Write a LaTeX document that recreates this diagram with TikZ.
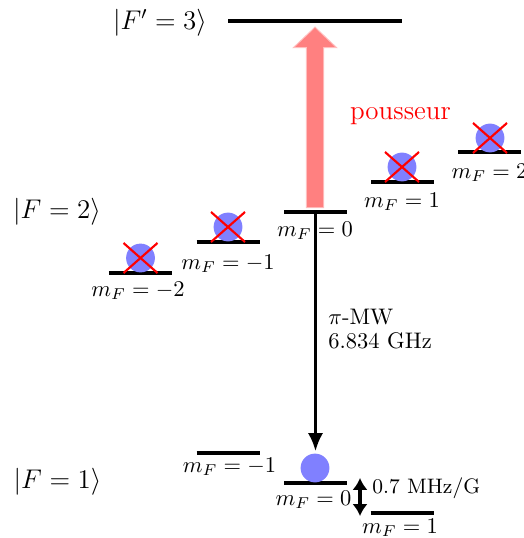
\documentclass[tikz,border=0pt]{standalone}
\usetikzlibrary{arrows.meta}
\begin{document}
\begin{tikzpicture}[x=0.4444pt,y=-0.4444pt,
  lvl/.style={line width=1.45pt},
  lbl/.style={inner sep=0pt},
  ket/.style={inner sep=0pt, font=\large},
  atom/.style={circle, fill=blue!50, inner sep=0pt, minimum size=12.8pt},
  cross/.style={red, line width=0.95pt},
  mw/.style={line width=1.15pt, -{Latex[length=8pt,width=6.8pt]}},
  dbl/.style={line width=1.7pt, {Latex[length=5.3pt,width=6.8pt]}-{Latex[length=5.3pt,width=6.8pt]}},
  pusher/.style={fill=red!50, draw=red!50, draw opacity=0.5, line width=1pt},
]
\useasboundingbox (0,0) rectangle (523,538);

% level centres
\coordinate (L3)   at (315,21);
\coordinate (L2m2) at (140.5,273);
\coordinate (L2m1) at (228,242);
\coordinate (L20)  at (315.5,212);
\coordinate (L21)  at (402.5,182);
\coordinate (L22)  at (489.5,152);
\coordinate (L1m1) at (228,453);
\coordinate (L10)  at (315.5,483);
\coordinate (L11)  at (402,513);

% pusher beam
\draw[pusher] (307,207) -- (307,47) -- (295,47) -- (315,28) -- (335,47) -- (323,47) -- (323,207) -- cycle;
\node[lbl, red, font=\large] (push) at (400.5,116) {pousseur};

% F'=3
\draw[lvl] (228,21) -- (402,21);
\node[ket] (k3) at (160,23) {$|F'=3\rangle$};

% F=2 and F=1 levels
\foreach \c in {L2m2,L2m1,L20,L21,L22,L1m1,L10,L11}
  \draw[lvl] ([xshift=-14pt]\c) -- ([xshift=14pt]\c);

\node[ket] (k2) at (57,212) {$|F=2\rangle$};
\node[ket] (k1) at (57.5,482) {$|F=1\rangle$};

% m_F labels
\node[lbl] (m2m2) at (138,291) {$m_F=-2$};
\node[lbl] (m2m1) at (228,264) {$m_F=-1$};
\node[lbl] (m20)  at (315,231) {$m_F=0$};
\node[lbl] (m21)  at (402,202) {$m_F=1$};
\node[lbl] (m22)  at (489.5,173) {$m_F=2$};
\node[lbl] (m1m1) at (229.5,467) {$m_F=-1$};
\node[lbl] (m10)  at (313.5,500) {$m_F=0$};
\node[lbl] (m11)  at (400,528) {$m_F=1$};

% atoms
\node[atom] (A2m2) at (140.5,258) {};
\node[atom] (A2m1) at (228,227) {};
\node[atom] (A21)  at (402,167) {};
\node[atom] (A22)  at (490,138) {};
\node[atom] (A10)  at (315,468) {};
\foreach \a in {A2m2,A2m1,A21,A22}{
  \draw[cross] ([shift={(-17,-15)}]\a.center) -- ([shift={(17,15)}]\a.center);
  \draw[cross] ([shift={(-17,15)}]\a.center) -- ([shift={(17,-15)}]\a.center);
}

% microwave transition
\coordinate (mwtip) at (315.5,451);
\draw[mw] (L20) -- (mwtip);
\node[lbl, anchor=west, align=left, font=\fontsize{10}{10.7}\selectfont] (mwtxt) at (328,329) {$\pi$-MW\\6.834 GHz};

% Zeeman shift
\coordinate (za) at (360,478);
\coordinate (zb) at (360,516);
\draw[dbl] (za) -- (zb);
\node[lbl, anchor=west, font=\fontsize{9.3}{11}\selectfont] (zt) at (372,488) {0.7 MHz/G};
\end{tikzpicture}
\end{document}
